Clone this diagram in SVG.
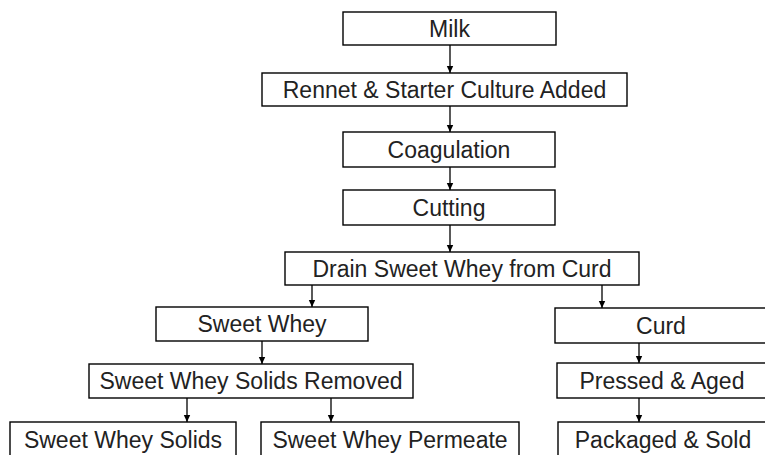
<svg xmlns="http://www.w3.org/2000/svg" width="765" height="455" viewBox="0 0 765 455">
<defs>
<marker id="ah" markerWidth="8" markerHeight="8" refX="7" refY="4" orient="auto" markerUnits="userSpaceOnUse">
<path d="M0,0.8 L7,4 L0,7.2 Z" fill="#000"/>
</marker>
<style>
rect{fill:#fff;stroke:#000;stroke-width:1.4}
text{font-family:"Liberation Sans",Arial,sans-serif;font-size:23px;fill:#222;text-anchor:middle;dominant-baseline:central}
.c line{stroke:#000;stroke-width:1.3;marker-end:url(#ah)}
</style>
</defs>
<rect x="0" y="0" width="765" height="455" style="stroke:none;fill:#fff"/>
<g class="c" id="connectors">
<line x1="450" y1="45" x2="450" y2="73"/>
<line x1="450" y1="106" x2="450" y2="132"/>
<line x1="450" y1="167" x2="450" y2="190"/>
<line x1="450" y1="225" x2="450" y2="252"/>
<line x1="312" y1="285" x2="312" y2="307"/>
<line x1="602" y1="285" x2="602" y2="308"/>
<line x1="262" y1="341" x2="262" y2="364"/>
<line x1="639" y1="343" x2="639" y2="363"/>
<line x1="187" y1="398" x2="187" y2="422"/>
<line x1="331" y1="398" x2="331" y2="422"/>
<line x1="639" y1="398" x2="639" y2="422"/>
</g>
<g id="milk"><rect x="343" y="12" width="213" height="33"/><text x="449.5" y="28.5">Milk</text></g>
<g id="rennet"><rect x="262" y="73" width="365" height="33"/><text x="444.5" y="89.5">Rennet &amp; Starter Culture Added</text></g>
<g id="coagulation"><rect x="343" y="132" width="212" height="35"/><text x="449" y="149.5">Coagulation</text></g>
<g id="cutting"><rect x="343" y="190" width="212" height="35"/><text x="449" y="207.5">Cutting</text></g>
<g id="drain"><rect x="285" y="252" width="354" height="33"/><text x="462" y="268.5">Drain Sweet Whey from Curd</text></g>
<g id="sweet-whey"><rect x="156" y="307" width="212" height="34"/><text x="262" y="324">Sweet Whey</text></g>
<g id="curd"><rect x="555" y="308" width="215" height="35"/><text x="661" y="325.5">Curd</text></g>
<g id="solids-removed"><rect x="89" y="364" width="324" height="34"/><text x="251" y="381">Sweet Whey Solids Removed</text></g>
<g id="pressed"><rect x="557" y="363" width="215" height="35"/><text x="662" y="380.5">Pressed &amp; Aged</text></g>
<g id="solids"><rect x="10" y="422" width="226" height="40"/><text x="123" y="439.5">Sweet Whey Solids</text></g>
<g id="permeate"><rect x="261" y="422" width="258" height="40"/><text x="390" y="439.5">Sweet Whey Permeate</text></g>
<g id="packaged"><rect x="558" y="422" width="215" height="40"/><text x="663" y="439.5">Packaged &amp; Sold</text></g>
</svg>
